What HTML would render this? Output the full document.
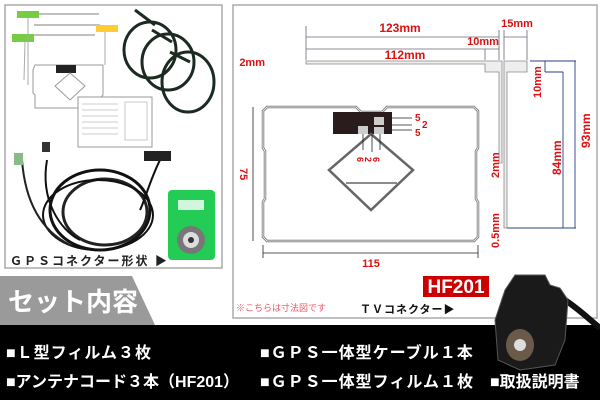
<!DOCTYPE html>
<html><head><meta charset="utf-8"><style>
body{margin:0;width:600px;height:400px;overflow:hidden;background:#fff;font-family:"Liberation Sans","Noto Sans CJK JP",sans-serif}
svg{position:absolute;left:0;top:0}
.t{font-family:"Liberation Sans","Noto Sans CJK JP",sans-serif;font-weight:bold}
</style></head><body>
<svg width="600" height="400" viewBox="0 0 600 400" xmlns="http://www.w3.org/2000/svg">
<rect x="0" y="0" width="600" height="400" fill="#fff"/>
<!-- left panel -->
<rect x="5" y="5" width="217" height="263" fill="#fff" stroke="#aaa" stroke-width="1.5"/>
<line x1="38" y1="14" x2="99" y2="14" stroke="#aaa" stroke-width="1.5"/>
<rect x="17" y="11" width="22" height="7" fill="#7c4"/>
<line x1="34" y1="25" x2="100" y2="25" stroke="#aaa" stroke-width="1.5"/>
<rect x="96" y="25" width="22" height="7" fill="#fc3"/>
<line x1="105" y1="32" x2="105" y2="65" stroke="#aaa"/>
<line x1="33" y1="35" x2="95" y2="35" stroke="#aaa" stroke-width="1.5"/>
<rect x="12" y="34" width="22" height="8" fill="#7c4"/>
<line x1="25" y1="42" x2="24" y2="80" stroke="#aaa"/>
<line x1="28" y1="18" x2="28" y2="85" stroke="#aaa"/>
<path d="M35 65 H103 V95 L100 98 V108 H35 V95 L33 93 V70Z" fill="none" stroke="#999"/>
<rect x="56" y="65" width="20" height="8" fill="#222"/>
<path d="M70 73 L85 86 L70 100 L55 86Z" fill="none" stroke="#999"/>
<rect x="78" y="97" width="74" height="50" fill="#fff" stroke="#999"/>
<g stroke="#bbb" stroke-width="0.8"><line x1="82" y1="104" x2="118" y2="104"/><line x1="82" y1="110" x2="118" y2="110"/><line x1="82" y1="116" x2="118" y2="116"/><line x1="82" y1="122" x2="118" y2="122"/><line x1="82" y1="128" x2="118" y2="128"/><line x1="82" y1="134" x2="118" y2="134"/><rect x="125" y="102" width="22" height="38" fill="none"/></g>
<g fill="none" stroke="#1c2a22" stroke-width="3">
<ellipse cx="150" cy="50" rx="26" ry="28"/><ellipse cx="168" cy="62" rx="26" ry="28"/><ellipse cx="188" cy="82" rx="26" ry="30"/>
<line x1="135" y1="10" x2="155" y2="25"/><line x1="152" y1="30" x2="172" y2="42"/><line x1="170" y1="52" x2="190" y2="62"/>
<ellipse cx="100" cy="210" rx="50" ry="40" stroke="#111"/><ellipse cx="105" cy="212" rx="42" ry="33" stroke="#222"/><ellipse cx="98" cy="215" rx="55" ry="35" stroke="#111" stroke-width="2"/>
<path d="M47 160 C40 200 60 230 80 240" stroke="#111" stroke-width="2"/><path d="M22 160 C25 200 40 230 70 245" stroke="#222" stroke-width="2"/>
<path d="M160 160 C150 180 145 200 140 210" stroke="#111" stroke-width="2"/>
</g>
<rect x="144" y="151" width="27" height="10" fill="#222"/>
<rect x="42" y="142" width="8" height="10" fill="#333"/>
<rect x="14" y="153" width="9" height="12" fill="#8b8"/>
<rect x="168" y="190" width="47" height="70" rx="4" fill="#2c5"/>
<rect x="178" y="200" width="26" height="10" fill="#fff" opacity=".8"/>
<circle cx="191" cy="240" r="14" fill="#777"/><circle cx="191" cy="240" r="8" fill="#ddd"/><circle cx="191" cy="240" r="3" fill="#333"/>
<text x="10" y="265" class="t" font-size="12" fill="#222" letter-spacing="2">ＧＰＳコネクター形状 ▶</text>
<!-- right panel -->
<rect x="233" y="5" width="364" height="313" fill="#fff" stroke="#aaa" stroke-width="1.5"/>
<g stroke="#667" stroke-width="0.8" fill="none">
<line x1="306" y1="37" x2="499" y2="37"/><line x1="306" y1="49" x2="499" y2="49"/><line x1="306" y1="26" x2="306" y2="60"/>
<line x1="485" y1="49" x2="485" y2="60"/><line x1="499" y1="30" x2="499" y2="60"/>
<line x1="504" y1="37" x2="527" y2="37"/><line x1="504" y1="30" x2="504" y2="60"/><line x1="527" y1="30" x2="527" y2="60"/>
</g>
<g stroke="#2a3f8a" stroke-width="0.9" fill="none">
<line x1="530" y1="61" x2="576" y2="61"/><line x1="545" y1="72" x2="563" y2="72"/><line x1="507" y1="228" x2="576" y2="228"/>
<line x1="545" y1="61" x2="545" y2="72"/><line x1="563" y1="72" x2="563" y2="228"/><line x1="575" y1="61" x2="575" y2="228"/>
</g>
<path d="M306 61 H502 V163 H499 V72 H485 V64 H306Z" fill="#eee" stroke="#888" stroke-width="0.8"/>
<path d="M504 61 H527 V72 H507 V228 H504Z" fill="#eee" stroke="#888" stroke-width="0.8"/>
<path d="M267 107 H356 L361 112 H382 L387 107 H474 L478 111 V148 L476 151 V199 L478 202 V237 L474 241 H267 L263 237 V202 L265 199 V151 L263 148 V111Z" fill="none" stroke="#777" stroke-width="2.5"/>
<path d="M267 107 H356 L361 112 H382 L387 107 H474 L478 111 V148 L476 151 V199 L478 202 V237 L474 241 H267 L263 237 V202 L265 199 V151 L263 148 V111Z" fill="none" stroke="#fff" stroke-width="0.8"/>
<rect x="333" y="112" width="59" height="22" fill="#2a1c1c"/>
<rect x="358" y="126" width="10" height="8" fill="#ccc"/><rect x="374" y="117" width="10" height="8" fill="#ccc"/><rect x="374" y="127" width="10" height="7" fill="#ccc"/>
<path d="M371 134 L413 170 L371 210 L329 170Z" fill="none" stroke="#666" stroke-width="2.5"/>
<line x1="346" y1="183" x2="397" y2="183" stroke="#666" stroke-width="1.5"/>
<g stroke="#222" stroke-width="0.8"><line x1="392" y1="118" x2="412" y2="118"/><line x1="392" y1="125" x2="412" y2="125"/><line x1="392" y1="130" x2="412" y2="130"/><line x1="363" y1="134" x2="363" y2="150"/><line x1="372" y1="134" x2="372" y2="152"/><line x1="380" y1="134" x2="380" y2="150"/><line x1="253" y1="107" x2="253" y2="241"/><line x1="263" y1="253" x2="478" y2="253"/><line x1="263" y1="245" x2="263" y2="258"/><line x1="478" y1="245" x2="478" y2="258"/></g>
<g class="t" fill="#d11" font-size="11">
<text x="400" y="32" text-anchor="middle" font-size="12">123mm</text>
<text x="405" y="59" text-anchor="middle" font-size="12">112mm</text>
<text x="483" y="45" text-anchor="middle" font-size="11">10mm</text>
<text x="517" y="27" text-anchor="middle" font-size="11">15mm</text>
<text x="265" y="66" text-anchor="end" font-size="11">2mm</text>
<text x="415" y="121" font-size="10">5</text><text x="422" y="128" font-size="10">2</text><text x="415" y="136" font-size="10">5</text>
<text transform="translate(357,157) rotate(90)" font-size="9">6</text>
<text transform="translate(365,157) rotate(90)" font-size="9">2</text>
<text transform="translate(373,157) rotate(90)" font-size="9">6</text>
<text transform="translate(240,168) rotate(90)" font-size="11">75</text>
<text x="371" y="267" text-anchor="middle" font-size="11">115</text>
<text transform="translate(541,98) rotate(-90)" font-size="11">10mm</text>
<text transform="translate(561,175) rotate(-90)" font-size="12">84mm</text>
<text transform="translate(590,148) rotate(-90)" font-size="12">93mm</text>
<text transform="translate(499,178) rotate(-90)" font-size="11">2mm</text>
<text transform="translate(499,248) rotate(-90)" font-size="11">0.5mm</text>
</g>
<rect x="423" y="276" width="66" height="21" fill="#c00"/>
<text x="456" y="293" text-anchor="middle" class="t" font-size="19" fill="#fff">HF201</text>
<text x="236" y="311" font-size="9" fill="#e56" font-family="Liberation Sans,Noto Sans CJK JP,sans-serif">※こちらは寸法図です</text>
<text x="360" y="313" class="t" font-size="11" fill="#111" letter-spacing="1">ＴＶコネクター▶</text>
<!-- gray banner -->
<path d="M0 276 H132 L155 325 H0Z" fill="#9a9a9a"/>
<text x="8" y="311" class="t" font-size="26" fill="#fff">セット内容</text>
<rect x="0" y="325" width="600" height="75" fill="#000"/>
<!-- tv connector -->
<path d="M565 300 C580 310 590 320 600 328" stroke="#111" stroke-width="6" fill="none"/>
<path d="M505 290 L515 275 L545 275 L550 285 L560 288 L568 300 L565 340 L555 365 L520 370 L498 360 L495 320Z" fill="#1a1a1a" stroke="#555" stroke-width="1"/>
<ellipse cx="520" cy="345" rx="14" ry="16" fill="#6a5a4a"/>
<circle cx="520" cy="345" r="6" fill="#ddd"/>
<g class="t" fill="#fff" font-size="16">
<text x="6" y="358" letter-spacing="1">■Ｌ型フィルム３枚</text>
<text x="260" y="358" letter-spacing="1">■ＧＰＳ一体型ケーブル１本</text>
<text x="6" y="387">■アンテナコード３本（HF201）</text>
<text x="260" y="387" letter-spacing="1">■ＧＰＳ一体型フィルム１枚</text>
<text x="490" y="387">■取扱説明書</text>
</g>
</svg>
</body></html>
